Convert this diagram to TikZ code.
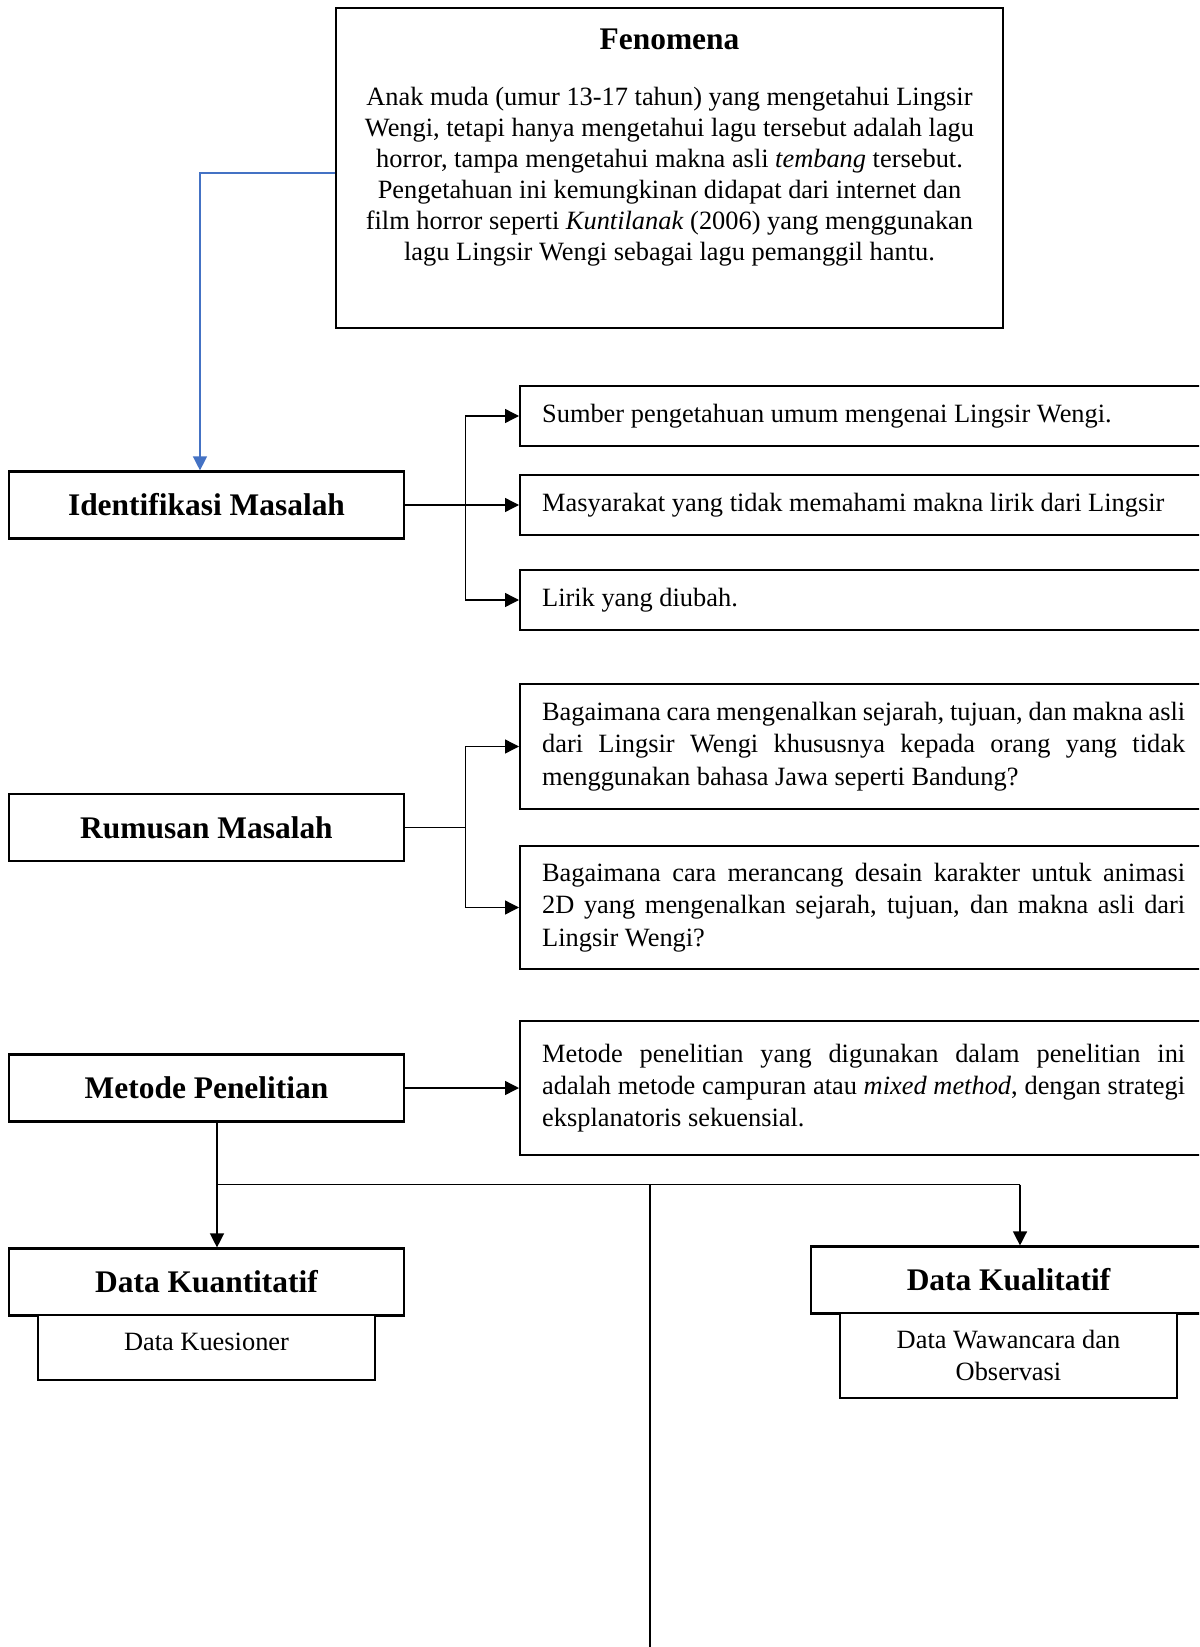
\documentclass[tikz,border=0pt]{standalone}
\usepackage{fontspec}
\setmainfont{Liberation Serif}
\usepackage{xcolor}
\usepackage{tikz}
\usetikzlibrary{positioning}
\usetikzlibrary{arrows.meta,shapes}
\definecolor{wordblue}{RGB}{68,114,196}
\hyphenpenalty=10000
\exhyphenpenalty=10000
\tikzstyle{fenbox}=[rectangle,draw,line width=1pt,minimum width=297pt,minimum height=142.5pt,inner sep=0pt]
\tikzstyle{fenhead}=[font=\fontsize{14}{16}\selectfont\bfseries]
\tikzstyle{fenbody}=[align=center,font=\fontsize{11.75}{13.8}\selectfont]
\tikzstyle{headbox}=[rectangle,draw,fill=white,line width=1pt,minimum width=175.9pt,minimum height=29.8pt,inner sep=0pt,font=\fontsize{14}{16}\selectfont\bfseries]
\tikzstyle{subbox}=[rectangle,draw,fill=white,line width=1pt,minimum width=150pt,inner sep=0pt,align=center,font=\fontsize{11.75}{14.2}\selectfont]
\tikzstyle{infobox}=[rectangle,draw,line width=1pt,text width=286.3pt,inner xsep=9.8pt,inner ysep=0pt,align=justify,font=\fontsize{11.75}{14.4}\selectfont]
\tikzstyle{arrowedge}=[draw,line width=0.6pt,-{Triangle[length=6.2pt,width=6.2pt]}]
\tikzstyle{plainedge}=[draw,line width=0.6pt]
\tikzstyle{blueedge}=[draw,wordblue,line width=0.6pt,-{Triangle[length=6.2pt,width=6.2pt]}]

\begin{document}
\begin{tikzpicture}[x=0.4452pt,y=-0.4452pt]

  \useasboundingbox (0,0) rectangle (1199,1647);
  \clip (0,0) rectangle (1199,1647);

  % fenomena
  \node[fenbox] (fen) at (669.5,168) {};
  \node[fenhead] (fentitle) at (669.5,39) {Fenomena};
  \node[fenbody] (fentext) at (669.5,177) {Anak muda (umur 13-17 tahun) yang mengetahui Lingsir\\
    Wengi, tetapi hanya mengetahui lagu tersebut adalah lagu\\
    horror, tampa mengetahui makna asli \emph{tembang} tersebut.\\
    Pengetahuan ini kemungkinan didapat dari internet dan\\
    film horror seperti \emph{Kuntilanak} (2006) yang menggunakan\\
    lagu Lingsir Wengi sebagai lagu pemanggil hantu.};

  \foreach \x/\y/\name/\label in {206.5/505/idm/Identifikasi Masalah, 206.5/827.5/rum/Rumusan Masalah,
      206.5/1088/met/Metode Penelitian, 206.5/1282/kua/Data Kuantitatif, 1008.5/1280/kul/Data Kualitatif}
          \node[headbox] (\name) at (\x,\y) {\label};

  \node[subbox,minimum height=28.9pt,text depth=5.5pt] (kues) at (206.5,1347.5) {Data Kuesioner};
  \node[subbox,minimum height=37.8pt] (waw) at (1008.5,1355.5) {Data Wawancara dan\\Observasi};

  \foreach \y/\name/\hgt/\label in {416/s1/26.7pt/{Sumber pengetahuan umum mengenai Lingsir Wengi.},
      505/s2/26.7pt/{Masyarakat yang tidak memahami makna lirik dari Lingsir},
      600/s3/26.7pt/{Lirik yang diubah.}}
          \node[infobox,minimum height=\hgt,anchor=west] (\name) at (519,\y) {\label};

  \foreach \y/\name/\hgt/\label in {746.5/q1/55.6pt/{Bagaimana cara mengenalkan sejarah, tujuan, dan makna asli\linebreak
        dari Lingsir Wengi khususnya kepada orang yang tidak\linebreak menggunakan bahasa Jawa seperti Bandung?},
      907.5/q2/54.8pt/{Bagaimana cara merancang desain karakter untuk animasi\linebreak
        2D yang mengenalkan sejarah, tujuan, dan makna asli dari\linebreak Lingsir Wengi?},
      1088/m1/59.7pt/{Metode penelitian yang digunakan dalam penelitian ini\linebreak
        adalah metode campuran atau \emph{mixed method}, dengan strategi\linebreak eksplanatoris sekuensial.}}
          \node[infobox,minimum height=\hgt,anchor=west] (\name) at (519,\y) {\label};

  \path[blueedge] ([yshift=-2.2pt]fen.west) -| ([xshift=-2.9pt]idm.north);

  \foreach \dest in {s1,s2,s3}
         \path[arrowedge] (idm.east) -- ++(60,0) |- (\dest.west);
  \foreach \dest in {q1,q2}
         \path[arrowedge] (rum.east) -- ++(60,0) |- (\dest.west);
  \path[arrowedge] (met.east) -- (m1.west);

  \coordinate (jl) at (217,1184.5);
  \coordinate (jr) at (1020,1184.5);
  \coordinate (jb) at (650,1647);
  \path[plainedge] (met.south -| jl) -- (jl) -- (jr);
  \path[arrowedge] (jl) -- (jl |- kua.north);
  \path[arrowedge] (jr) -- (jr |- kul.north);
  \path[plainedge] (jl -| jb) -- (jb);

\end{tikzpicture}
\end{document}
